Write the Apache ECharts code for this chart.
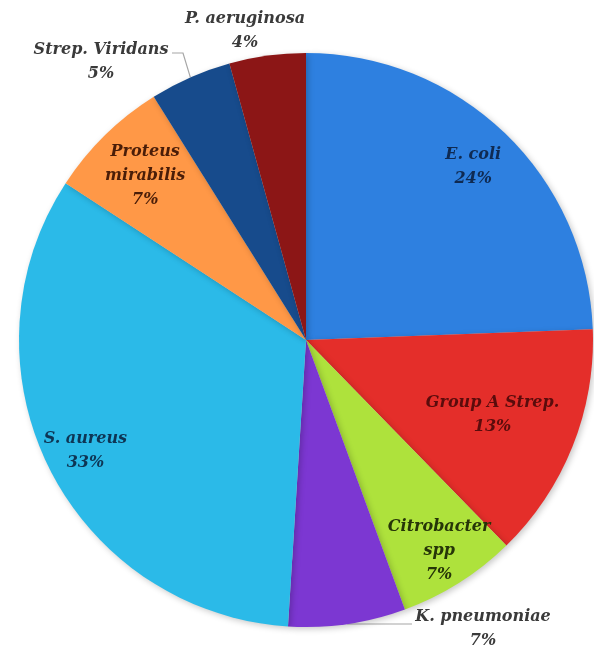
<!DOCTYPE html>
<html>
<head>
<meta charset="utf-8">
<script src="https://cdn.jsdelivr.net/npm/echarts@6/dist/echarts.min.js"></script>
<style>
html,body{margin:0;padding:0;background:#fff;}
#chart{width:594px;height:651px;}
</style>
</head>
<body>
<div id="chart"></div>
<script>
// Data (clockwise from 12 o'clock)
const categories = ['E. coli', 'Group A Strep.', 'Citrobacter\nspp', 'K. pneumoniae', 'S. aureus', 'Proteus\nmirabilis', 'Strep. Viridans', 'P. aeruginosa'];
const values = [24.4, 13.3, 6.7, 6.6, 33.2, 6.9, 4.6, 4.3];

// Styles
const colors = ['#2e80e0', '#e42e2a', '#aee23c', '#7c37d2', '#2bbae8', '#ff9847', '#174b8c', '#8c1616'];
const textColors = ['#0f2a52', '#5a0c0c', '#263508', '#3a3a3a', '#0e3554', '#4a1d08', '#3a3a3a', '#3a3a3a'];
const insideFrac = [0.84, 0.70, 0.87, null, 0.86, 0.80, null, null];

const CX = 306, CY = 340, R = 287;

const total = values.reduce((a, b) => a + b, 0);
const midAngles = [];
let cum = 0;
values.forEach(v => {
  midAngles.push((90 - 360 * (cum + v / 2) / total) * Math.PI / 180);
  cum += v;
});
function edge(i, f) {
  return [CX + f * R * Math.cos(midAngles[i]), CY - f * R * Math.sin(midAngles[i])];
}

const chart = echarts.init(document.getElementById('chart'), null, {renderer: 'canvas'});

const data = categories.map((c, i) => {
  const inside = insideFrac[i] !== null;
  return {
    name: c,
    value: values[i],
    itemStyle: {color: colors[i]},
    label: {position: inside ? 'inside' : 'outside', color: textColors[i]},
    labelLine: {show: i === 3 || i === 6}
  };
});

chart.setOption({
  animation: false,
  backgroundColor: '#ffffff',
  series: [{
    type: 'pie',
    center: [CX, CY],
    radius: [0, R],
    startAngle: 90,
    clockwise: true,
    percentPrecision: 0,
    data: data,
    itemStyle: {
      borderWidth: 0,
      shadowBlur: 6,
      shadowOffsetX: 2,
      shadowOffsetY: 2,
      shadowColor: 'rgba(0,0,0,0.22)'
    },
    label: {
      show: true,
      formatter: '{b}\n{d}%',
      fontFamily: '"DejaVu Serif", serif',
      fontStyle: 'italic',
      fontWeight: 'bold',
      fontSize: 16,
      lineHeight: 24,
      align: 'center',
      overflow: 'none',
      width: 200
    },
    labelLine: {
      show: true,
      lineStyle: {color: '#a6a6a6', width: 1.2}
    },
    labelLayout: function (p) {
      const i = p.dataIndex;
      if (insideFrac[i] !== null) {
        const pt = edge(i, insideFrac[i]);
        return {x: pt[0], y: pt[1], align: 'center', verticalAlign: 'middle'};
      }
      const e = edge(i, 1);
      if (i === 3) {
        return {
          x: 483, y: 629, align: 'center', verticalAlign: 'middle',
          labelLinePoints: [[e[0], e[1]], [e[0] + 30, e[1]], [412, e[1]]]
        };
      }
      if (i === 6) {
        return {
          x: 101, y: 62, align: 'center', verticalAlign: 'middle',
          labelLinePoints: [[e[0], e[1]], [183, 53], [172, 53]]
        };
      }
      return {x: 245, y: 31, align: 'center', verticalAlign: 'middle'};
    }
  }]
});
</script>
</body>
</html>
